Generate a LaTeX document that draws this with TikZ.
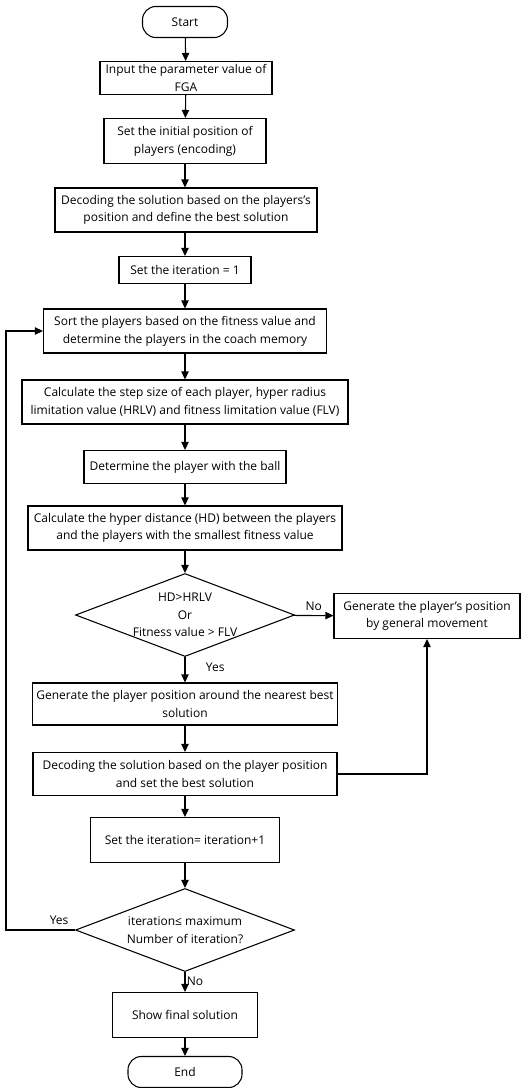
\documentclass[tikz,border=0pt]{standalone}
\usepackage{fontspec}
\setmainfont{Open Sans}
\usetikzlibrary{shapes.geometric,arrows.meta}

\begin{document}
\begin{tikzpicture}[x=0.75pt,y=-0.75pt,
  every node/.style={font=\fontsize{9}{13.3}\selectfont},
  blk/.style={draw, line width=0.8pt, align=center, inner sep=1pt},
  term/.style={draw, line width=0.8pt, rounded corners=10pt, inner sep=1pt},
  dec/.style={draw, line width=0.8pt, diamond, inner sep=0pt},
  sz/.style 2 args={minimum width=#1*0.75pt, minimum height=#2*0.75pt},
  arr/.style={-{Triangle[length=6pt,width=5.5pt]}, line width=0.8pt}]
\useasboundingbox (0,0) rectangle (521,1088);
\node [term, sz={85}{31}] (start) at (185,22) {Start};
\node [blk, sz={172}{33}] (input) at (186,78) {Input the parameter value of\\FGA};
\node [blk, sz={162}{45}] (init) at (185,141) {Set the initial position of\\players (encoding)};
\node [blk, sz={262}{44}] (decode) at (186,210) {Decoding the solution based on the players’s\\position and define the best solution};
\node [blk, sz={132}{27}] (iter) at (185,270) {Set the iteration = 1};
\node [blk, sz={283}{44}] (sort) at (185,331) {Sort the players based on the fitness value and\\determine the players in the coach memory};
\node [blk, sz={326}{44}] (step) at (185,402) {Calculate the step size of each player, hyper radius\\limitation value (HRLV) and fitness limitation value (FLV)};
\node [blk, sz={202}{33}] (ball) at (185,467) {Determine the player with the ball};
\node [blk, sz={314}{44}] (hd) at (185,528) {Calculate the hyper distance (HD) between the players\\and the players with the smallest fitness value};
\node [dec, sz={219}{83}, label={[align=center]center:{HD>HRLV\\Or\\Fitness value > FLV}}] (cond) at (185,615) {};
\node [blk, sz={186}{45}] (general) at (427,616) {Generate the player’s position\\by general movement};
\node [blk, sz={305}{42}] (nearest) at (185,704) {Generate the player position around the nearest best\\solution};
\node [blk, sz={304}{43}] (setbest) at (185,774) {Decoding the solution based on the player position\\and set the best solution};
\node [blk, sz={189}{45}] (incr) at (185,840) {Set the iteration= iteration+1};
\node [dec, sz={219}{83}, label={[align=center]center:{iteration≤ maximum\\Number of iteration?}}] (stop) at (185,930) {};
\node [blk, sz={145}{45}] (final) at (185,1015) {Show final solution};
\node [term, sz={114}{31}] (end) at (185,1072) {End};
\draw [arr] (start) -- (input);
\draw [arr] (input) -- (init);
\draw [arr] (init) -- (init |- decode.north);
\draw [arr] (decode.south -| iter) -- (iter);
\draw [arr] (iter) -- (sort);
\draw [arr] (sort) -- (step);
\draw [arr] (step) -- (ball);
\draw [arr] (ball) -- (hd);
\draw [arr] (hd) -- (cond);
\draw [arr] (cond) -- node [above] {No} (general);
\draw [arr] (cond) -- node [right, pos=0.4, xshift=12pt] {Yes} (nearest);
\draw [arr] (nearest) -- (setbest);
\draw [arr] (setbest) -| (general);
\draw [arr] (setbest) -- (incr);
\draw [arr] (incr) -- (stop);
\draw [arr] (stop.west) -- node [above, pos=0.23] {Yes} ++(-69,0) |- (sort);
\draw [arr] (stop) -- node [right, pos=0.45, inner sep=1pt] {No} (final);
\draw [arr] (final) -- (end);
\end{tikzpicture}
\end{document}
